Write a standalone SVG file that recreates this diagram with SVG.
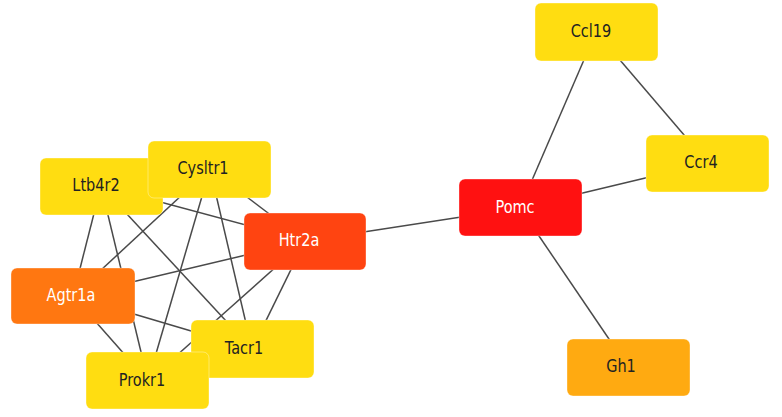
<svg xmlns="http://www.w3.org/2000/svg" width="782" height="417" viewBox="0 0 782 417">
<style>
.e{stroke:#4a4a4a;stroke-width:1.5;fill:none}
.n{stroke:#ffffff;stroke-opacity:0.35;stroke-width:1}
.t{font-family:"DejaVu Sans",Verdana,sans-serif;font-size:14.5px;text-anchor:middle}
.d{fill:#222222}
.w{fill:#ffffff}
</style>
<rect width="782" height="417" fill="#ffffff"/>
<g id="edges">
<line class="e" x1="305" y1="241" x2="520" y2="208"/>
<line class="e" x1="520" y1="208" x2="596" y2="32"/>
<line class="e" x1="520" y1="208" x2="708" y2="163"/>
<line class="e" x1="596" y1="32" x2="708" y2="163"/>
<line class="e" x1="520" y1="208" x2="628" y2="367"/>
<line class="e" x1="101" y1="186" x2="210" y2="169"/>
<line class="e" x1="101" y1="186" x2="73" y2="296"/>
<line class="e" x1="101" y1="186" x2="148" y2="381"/>
<line class="e" x1="101" y1="186" x2="252" y2="349"/>
<line class="e" x1="101" y1="186" x2="305" y2="241"/>
<line class="e" x1="210" y1="169" x2="73" y2="296"/>
<line class="e" x1="210" y1="169" x2="148" y2="381"/>
<line class="e" x1="210" y1="169" x2="252" y2="349"/>
<line class="e" x1="210" y1="169" x2="305" y2="241"/>
<line class="e" x1="305" y1="241" x2="73" y2="296"/>
<line class="e" x1="305" y1="241" x2="148" y2="381"/>
<line class="e" x1="305" y1="241" x2="252" y2="349"/>
<line class="e" x1="73" y1="296" x2="252" y2="349"/>
<line class="e" x1="73" y1="296" x2="148" y2="381"/>
<line class="e" x1="252" y1="349" x2="148" y2="381"/>
</g>
<g id="Ccl19"><rect class="n" x="535" y="3" width="123" height="58" rx="6" fill="#FFDD11"/><text class="t d" transform="translate(591,37) scale(1,1.25)">Ccl19</text></g>
<g id="Ccr4"><rect class="n" x="646" y="135" width="123" height="57" rx="6" fill="#FFDD11"/><text class="t d" transform="translate(701,168) scale(1,1.25)">Ccr4</text></g>
<g id="Pomc"><rect class="n" x="459" y="179" width="123" height="57" rx="6" fill="#FF1111"/><text class="t w" transform="translate(515,213) scale(1,1.25)">Pomc</text></g>
<g id="Gh1"><rect class="n" x="567" y="339" width="123" height="57" rx="6" fill="#FFAA11"/><text class="t d" transform="translate(621,372) scale(1,1.25)">Gh1</text></g>
<g id="Ltb4r2"><rect class="n" x="40" y="158" width="123" height="57" rx="6" fill="#FFDD11"/><text class="t d" transform="translate(96,191) scale(1,1.25)">Ltb4r2</text></g>
<g id="Cysltr1"><rect class="n" x="148" y="141" width="123" height="57" rx="6" fill="#FFDD11"/><text class="t d" transform="translate(203,174) scale(1,1.25)">Cysltr1</text></g>
<g id="Htr2a"><rect class="n" x="244" y="213" width="122" height="57" rx="6" fill="#FF4411"/><text class="t w" transform="translate(299,246) scale(1,1.25)">Htr2a</text></g>
<g id="Agtr1a"><rect class="n" x="11" y="268" width="124" height="56" rx="6" fill="#FF7711"/><text class="t w" transform="translate(71,301) scale(1,1.25)">Agtr1a</text></g>
<g id="Tacr1"><rect class="n" x="191" y="320" width="123" height="58" rx="6" fill="#FFDD11"/><text class="t d" transform="translate(244,354) scale(1,1.25)">Tacr1</text></g>
<g id="Prokr1"><rect class="n" x="86" y="352" width="123" height="57" rx="6" fill="#FFDD11"/><text class="t d" transform="translate(142,386) scale(1,1.25)">Prokr1</text></g>
</svg>
